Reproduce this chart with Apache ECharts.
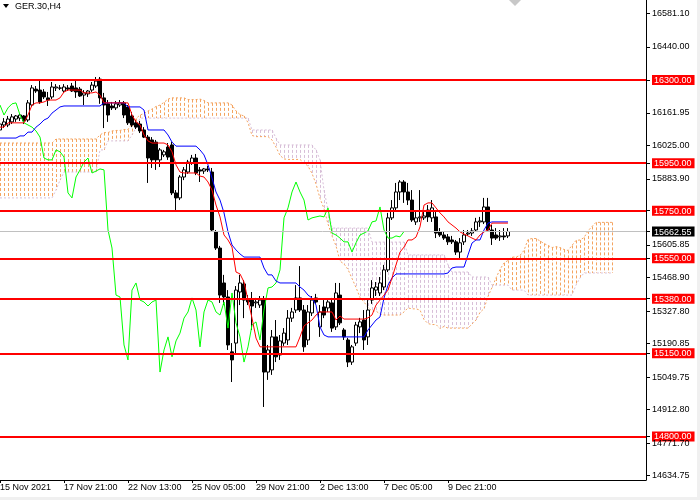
<!DOCTYPE html>
<html><head><meta charset="utf-8">
<script src="https://cdn.jsdelivr.net/npm/echarts@6/dist/echarts.min.js"></script>
<style>html,body{margin:0;padding:0;background:#fff}#c{width:700px;height:500px}</style>
</head><body><div id="c"></div>
<script>
const symbolName = 'GER.30,H4';
const tickLabels = [[0,'15 Nov 2021'],[16,'17 Nov 21:00'],[32,'22 Nov 13:00'],[48,'25 Nov 05:00'],[64,'29 Nov 21:00'],[80,'2 Dec 13:00'],[96,'7 Dec 05:00'],[112,'9 Dec 21:00']];
const priceTicks = [16581.10,16440.00,16161.95,16025.00,15883.90,15605.85,15468.90,15327.80,15190.85,15049.75,14912.80,14771.70,14634.75];
const levels = [16300,15950,15750,15550,15380,15150,14800];
const lastPrice = 15662.55;
const priceMin = 14616.6, priceMax = 16637.1;
const slotCount = 162;
const chikouShift = 26;

// [open, close, low, high]
const candles = [
[16090,16115,16073,16132],[16111,16124,16098,16140],[16111,16136,16102,16149],[16124,16145,16115,16157],[16136,16149,16124,16153],[16140,16153,16128,16161],[16149,16128,16115,16153],[16132,16204,16124,16216],[16195,16267,16187,16279],[16262,16254,16246,16275],
[16258,16208,16200,16304],[16250,16229,16220,16262],[16225,16216,16191,16250],[16229,16271,16220,16292],[16267,16271,16254,16283],[16267,16266,16258,16279],[16254,16271,16246,16283],[16267,16262,16254,16279],[16275,16254,16250,16288],[16267,16250,16225,16296],
[16262,16233,16229,16271],[16237,16246,16195,16258],[16242,16254,16229,16258],[16258,16279,16250,16292],[16275,16296,16267,16313],[16304,16225,16200,16313],[16225,16195,16098,16246],[16200,16153,16124,16216],[16191,16183,16174,16208],[16183,16200,16174,16212],
[16195,16204,16187,16216],[16204,16153,16140,16212],[16187,16120,16111,16195],[16149,16111,16102,16166],[16120,16102,16094,16132],[16115,16086,16077,16128],[16090,16060,16056,16102],[16060,15972,15867,16069],[16048,15964,15930,16060],[16039,15964,15922,16048],
[15964,16006,15934,16014],[15985,15998,15976,16006],[16018,15976,15964,16035],[16027,15825,15816,16039],[15825,15804,15753,15837],[15804,15892,15795,15900],[15892,15922,15879,15934],[15913,15955,15905,15964],[15951,15972,15943,15985],[15972,15909,15900,15989],
[15922,15917,15871,15934],[15917,15926,15905,15930],[15926,15922,15913,15939],[15913,15669,15661,15930],[15661,15593,15585,15669],[15593,15395,15362,15602],[15446,15387,15353,15480],[15387,15185,15164,15416],[15156,15122,15029,15193],[15193,15416,15143,15433],
[15408,15446,15353,15480],[15442,15374,15298,15458],[15374,15366,15353,15395],[15378,15349,15248,15408],[15362,15366,15341,15383],[15353,15374,15341,15391],[15374,15071,14924,15391],[15071,15164,15038,15185],[15080,15219,15059,15248],[15219,15135,15113,15290],
[15143,15202,15122,15227],[15193,15235,15181,15256],[15206,15298,15185,15332],[15298,15324,15282,15341],[15332,15383,15320,15437],[15383,15332,15324,15517],[15332,15177,15156,15353],[15206,15324,15185,15353],[15320,15374,15307,15391],[15383,15366,15358,15400],
[15261,15324,15219,15353],[15345,15311,15298,15374],[15341,15366,15324,15374],[15362,15256,15240,15383],[15261,15404,15248,15446],[15395,15278,15269,15446],[15248,15219,15206,15256],[15206,15113,15092,15215],[15113,15177,15101,15185],[15193,15269,15181,15282],
[15261,15282,15235,15299],[15290,15206,15164,15332],[15219,15332,15185,15374],[15374,15425,15358,15458],[15416,15429,15391,15450],[15404,15446,15391,15471],[15429,15501,15416,15522],[15501,15720,15492,15741],[15720,15762,15711,15795],[15762,15829,15753,15867],
[15829,15871,15795,15879],[15871,15829,15783,15879],[15829,15795,15774,15867],[15795,15711,15703,15837],[15703,15720,15690,15745],[15720,15724,15703,15837],[15720,15728,15711,15753],[15753,15724,15703,15774],[15720,15762,15703,15795],[15724,15656,15635,15753],
[15661,15648,15640,15677],[15648,15635,15627,15661],[15640,15619,15606,15652],[15627,15619,15610,15644],[15619,15576,15564,15627],[15576,15615,15551,15635],[15619,15648,15606,15669],[15652,15656,15644,15669],[15656,15665,15644,15677],[15669,15703,15661,15720],
[15703,15707,15682,15724],[15703,15766,15694,15804],[15766,15669,15661,15804],[15669,15635,15606,15690],[15648,15635,15627,15677],[15640,15644,15623,15669],[15644,15640,15627,15677],[15644,15662.55,15635,15677]
];

const tenkan = [
16102,16102,16120,16120,16120,16120,16120,16153,16195,16204,
16204,16208,16216,16216,16216,16225,16250,16258,16258,16258,
16258,16246,16246,16246,16250,16237,16204,16204,16204,16204,
16204,16204,16204,16153,16124,16111,16069,16044,16035,16035,
16035,16035,16027,15998,15943,15913,15909,15909,15909,15909,
15896,15892,15871,15837,15774,15724,15648,15627,15597,15492,
15484,15450,15374,15298,15214,15177,15177,15177,15177,15177,
15177,15177,15177,15177,15177,15219,15265,15278,15290,15311,
15324,15324,15324,15324,15290,15307,15294,15294,15294,15294,
15294,15294,15299,15311,15353,15374,15395,15416,15467,15522,
15576,15597,15627,15627,15639,15682,15774,15783,15783,15762,
15741,15724,15703,15690,15677,15661,15652,15644,15635,15627,
15648,15661,15669,15698,15698,15698,15698,15698
];

const kijun = [
16056,16056,16056,16056,16056,16065,16065,16081,16081,16102,
16115,16132,16140,16161,16174,16187,16191,16191,16191,16191,
16191,16191,16191,16191,16191,16191,16204,16204,16204,16204,
16204,16204,16187,16187,16187,16187,16174,16090,16090,16090,
16090,16090,16069,16039,16022,16022,16022,16022,16022,16022,
16006,15985,15943,15888,15829,15795,15741,15661,15606,15585,
15568,15555,15555,15555,15555,15555,15509,15480,15480,15454,
15446,15446,15446,15446,15446,15429,15416,15395,15383,15353,
15261,15227,15219,15219,15219,15219,15219,15219,15219,15219,
15219,15219,15248,15269,15290,15303,15383,15437,15467,15484,
15484,15484,15484,15484,15484,15484,15484,15484,15484,15484,
15484,15484,15488,15509,15513,15513,15513,15564,15614,15627,
15627,15669,15698,15703,15703,15703,15703,15703
];

const spanA = [
16035,16035,16035,16035,16035,16035,16035,16035,16035,16035,
16035,16035,16035,16035,16052,16052,16052,16052,16052,16052,
16052,16052,16052,16052,16052,16069,16079,16079,16086,16088,
16088,16092,16092,16117,16138,16153,16159,16170,16178,16189,
16195,16206,16220,16225,16225,16225,16225,16218,16218,16218,
16220,16214,16204,16204,16204,16204,16204,16204,16195,16170,
16155,16149,16121,16067,16062,16062,16062,16062,16048,16018,
15983,15968,15966,15966,15966,15966,15951,15938,15907,15863,
15802,15759,15694,15644,15602,15538,15526,15503,15465,15427,
15385,15366,15343,15328,15328,15315,15311,15311,15311,15311,
15311,15324,15341,15337,15337,15332,15292,15275,15271,15271,
15254,15263,15256,15256,15256,15256,15256,15256,15273,15290,
15322,15338,15389,15427,15467,15503,15530,15541,15555,15555,
15562,15583,15629,15633,15633,15623,15612,15604,15595,15599,
15595,15587,15583,15604,15625,15627,15637,15665,15684,15701,
15701,15701,15701,15701
];

const spanB = [
15804,15804,15804,15804,15804,15804,15804,15804,15804,15804,
15804,15804,15804,15804,15837,15879,15913,15913,15913,15913,
15913,15913,15913,15913,15913,16006,16006,16044,16044,16044,
16044,16044,16044,16069,16098,16140,16140,16140,16140,16140,
16140,16140,16140,16140,16140,16140,16140,16140,16140,16140,
16140,16140,16140,16140,16140,16140,16140,16140,16140,16140,
16140,16140,16140,16090,16090,16090,16090,16090,16090,16056,
16027,16027,16027,16027,16027,16027,16027,16027,16027,16006,
15964,15837,15753,15677,15677,15677,15677,15677,15677,15677,
15677,15677,15677,15618,15618,15618,15618,15618,15618,15618,
15618,15618,15564,15564,15564,15564,15564,15564,15564,15564,
15564,15564,15522,15492,15492,15492,15492,15492,15471,15471,
15471,15471,15471,15437,15437,15437,15437,15437,15416,15416,
15416,15416,15395,15395,15395,15395,15395,15395,15395,15395,
15395,15395,15395,15395,15437,15467,15488,15488,15488,15488,
15488,15488,15488,15488
];

const FONT = 'Liberation Sans';
const ORANGE = '#F4A460', THISTLE = '#D8BFD8';

const categories = Array.from({length: slotCount}, (_, i) => String(i));
const labelMap = {};
tickLabels.forEach(([i, t]) => { labelMap[i] = t; });
const closes = candles.map(c => c[1]);
const chikou = categories.map((_, i) => (i + chikouShift < closes.length ? closes[i + chikouShift] : null));
const cloudData = spanA.map((a, i) => [i, a, spanB[i]]);
const axisValues = priceTicks.concat(levels, [lastPrice]).sort((a, b) => b - a);

const chart = echarts.init(document.getElementById('c'), null, {renderer: 'canvas'});
chart.setOption({
  animation: false,
  backgroundColor: '#ffffff',
  textStyle: {fontFamily: FONT},
  grid: {left: -2, right: 54, top: 0, bottom: 20, outerBoundsMode: 'none', containLabel: false},
  xAxis: {
    type: 'category', data: categories, boundaryGap: true,
    axisLine: {show: true, lineStyle: {color: '#000', width: 1}},
    axisTick: {show: true, alignWithLabel: true, length: 3, interval: (i) => labelMap[i] !== undefined, lineStyle: {color: '#000'}},
    axisLabel: {show: true, interval: (i) => labelMap[i] !== undefined, formatter: (v, i) => labelMap[i] || '',
      align: 'left', margin: 3, fontSize: 9, color: '#000', fontFamily: FONT},
    splitLine: {show: false}
  },
  yAxis: {
    type: 'value', position: 'right', min: priceMin, max: priceMax,
    axisLine: {show: true, lineStyle: {color: '#000', width: 1}},
    axisTick: {show: true, customValues: axisValues, length: 4, lineStyle: {color: '#000'}},
    splitLine: {show: false},
    axisLabel: {
      show: true, customValues: axisValues, margin: 6, fontSize: 9, color: '#000', fontFamily: FONT,
      formatter: (v) => {
        const s = Number(v).toFixed(2);
        if (levels.some(l => Math.abs(l - v) < 0.001)) return '{r|' + s + '}';
        if (Math.abs(v - lastPrice) < 0.001) return '{k|' + s + '}';
        return s;
      },
      rich: {
        r: {color: '#fff', backgroundColor: '#ff0000', padding: [1, 3, 0, 2], fontSize: 9, fontFamily: FONT},
        k: {color: '#fff', backgroundColor: '#000000', padding: [1, 3, 0, 2], fontSize: 9, fontFamily: FONT}
      }
    }
  },
  series: [
    {
      type: 'custom', name: 'cloud', z: 1, silent: true,
      data: cloudData,
      encode: {x: 0, y: [1, 2]},
      renderItem: (params, api) => {
        const i = api.value(0), a = api.value(1), b = api.value(2);
        const pa = api.coord([i, a]);
        const pb = api.coord([i, b]);
        const x = Math.round(pa[0]) + 0.5;
        return {type: 'line', shape: {x1: x, y1: Math.min(pa[1], pb[1]), x2: x, y2: Math.max(pa[1], pb[1])},
          style: {stroke: a >= b ? ORANGE : THISTLE, lineWidth: 1, lineDash: [3, 2]}};
      }
    },
    {type: 'line', name: 'Senkou A', data: spanA, z: 1, showSymbol: false, silent: true,
      lineStyle: {color: ORANGE, width: 1, type: [2, 2]}},
    {type: 'line', name: 'Senkou B', data: spanB, z: 1, showSymbol: false, silent: true,
      lineStyle: {color: THISTLE, width: 1, type: [2, 2]}},
    {type: 'line', name: 'bid', data: [], z: 1, silent: true,
      markLine: {silent: true, symbol: ['none', 'none'], label: {show: false},
        lineStyle: {color: '#C0C0C0', width: 1, type: 'solid'}, data: [{yAxis: lastPrice}]}},
    {
      type: 'candlestick', name: symbolName, data: candles, z: 2, barWidth: 3,
      itemStyle: {color: '#ffffff', color0: '#000000', borderColor: '#000000', borderColor0: '#000000', borderWidth: 1}
    },
    {type: 'line', name: 'Chikou', data: chikou, z: 3, showSymbol: false, silent: true, connectNulls: false,
      lineStyle: {color: '#00FF00', width: 1}},
    {type: 'line', name: 'Kijun', data: kijun, z: 3, showSymbol: false, silent: true,
      lineStyle: {color: '#0000FF', width: 1}},
    {type: 'line', name: 'Tenkan', data: tenkan, z: 3, showSymbol: false, silent: true,
      lineStyle: {color: '#FF0000', width: 1}},
    {type: 'line', name: 'levels', data: [], z: 4, silent: true,
      markLine: {silent: true, symbol: ['none', 'none'], label: {show: false},
        lineStyle: {color: '#FF0000', width: 2, type: 'solid'},
        data: levels.map(v => ({yAxis: v}))}}
  ],
  graphic: [
    {type: 'polygon', shape: {points: [[3, 4], [9, 4], [6, 8]]}, style: {fill: '#000'}},
    {type: 'text', left: 15, top: 2, style: {text: symbolName, fill: '#000', font: '9px ' + FONT}},
    {type: 'polygon', shape: {points: [[509, 0], [521, 0], [515, 6]]}, style: {fill: '#C8C8C8'}},
    {type: 'rect', shape: {x: 697, y: 0, width: 3, height: 500}, style: {fill: '#F0F0F0'}},
    {type: 'rect', shape: {x: 0, y: 497, width: 700, height: 3}, style: {fill: '#F0F0F0'}}
  ]
});
</script>
</body></html>
